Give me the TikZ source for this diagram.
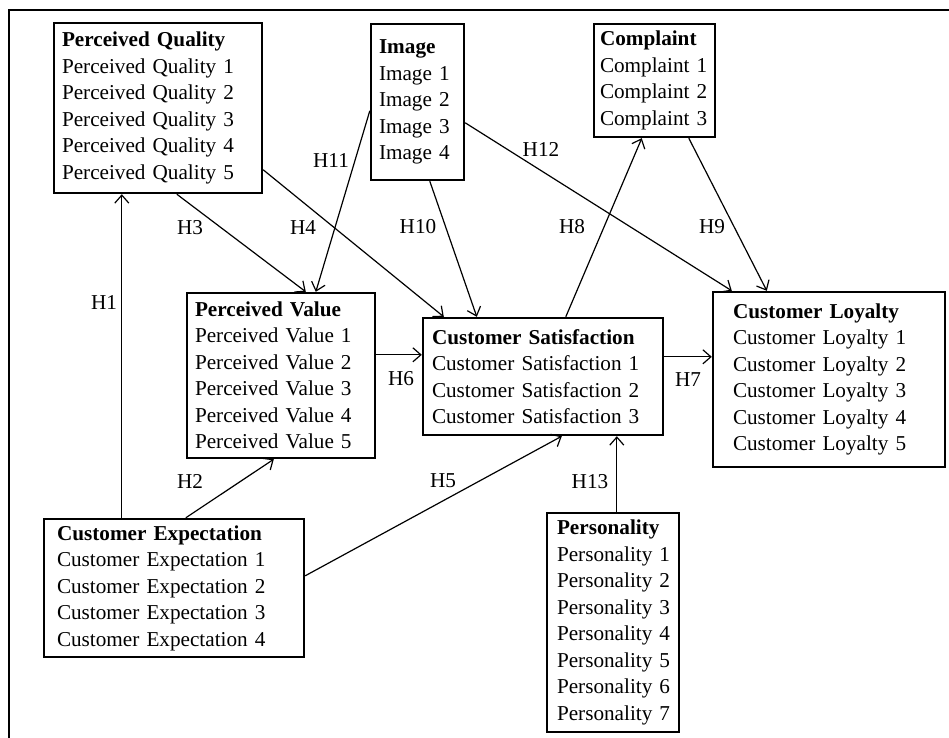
\documentclass[tikz,border=0pt]{standalone}
\usepackage{fontspec}
\setmainfont{Liberation Serif}
\usetikzlibrary{arrows.meta,calc}
\newcommand\diagfs{\fontsize{10.6pt}{13.25pt}\selectfont}
\tikzset{
  box/.style={draw, line width=1.2pt, align=left, inner ysep=0.5pt, font=\diagfs},
  conn/.style={-{Straight Barb[length=4pt,width=7pt]}, line width=0.6pt},
  hlab/.style={font=\diagfs, inner sep=1pt},
}
\begin{document}
\begin{tikzpicture}[x=0.5pt,y=-0.5pt]
\useasboundingbox (0,0) rectangle (949,738);
\draw[line width=1pt] (9,738) -- (9,10) -- (949,10);

\node[box, minimum width=104pt, minimum height=85pt, inner xsep=4pt, text width=96pt] (PQ) at (158,108)
 {\textbf{Perceived~Quality}\\Perceived~Quality~1\\Perceived~Quality~2\\Perceived~Quality~3\\Perceived~Quality~4\\Perceived~Quality~5};
\node[box, minimum width=46.5pt, minimum height=78pt, inner xsep=4pt, text width=38.5pt] (IM) at (417.5,102)
 {\textbf{Image}\\Image~1\\Image~2\\Image~3\\Image~4};
\node[box, minimum width=60.5pt, minimum height=56.5pt, inner xsep=3pt, text width=54.5pt] (CO) at (654.5,80.5)
 {\textbf{Complaint}\\Complaint~1\\Complaint~2\\Complaint~3};
\node[box, minimum width=94pt, minimum height=82.5pt, inner xsep=4pt, text width=86pt] (PV) at (281,375.5)
 {\textbf{Perceived~Value}\\Perceived~Value~1\\Perceived~Value~2\\Perceived~Value~3\\Perceived~Value~4\\Perceived~Value~5};
\node[box, minimum width=130pt, minimum height=69pt, inner xsep=6.5pt, text width=117pt] (CE) at (174,588)
 {\textbf{Customer~Expectation}\\Customer~Expectation~1\\Customer~Expectation~2\\Customer~Expectation~3\\Customer~Expectation~4};
\node[box, minimum width=120pt, minimum height=58.5pt, inner xsep=4.5pt, text width=111pt] (CS) at (543,376.5)
 {\textbf{Customer~Satisfaction}\\Customer~Satisfaction~1\\Customer~Satisfaction~2\\Customer~Satisfaction~3};
\node[box, minimum width=116pt, minimum height=87.5pt, inner xsep=10pt, text width=96pt] (CL) at (829,379.5)
 {\textbf{Customer~Loyalty}\\Customer~Loyalty~1\\Customer~Loyalty~2\\Customer~Loyalty~3\\Customer~Loyalty~4\\Customer~Loyalty~5};
\node[box, minimum width=66pt, minimum height=109.5pt, inner xsep=5pt, text width=56pt] (PE) at (613,622.5)
 {\textbf{Personality}\\Personality~1\\Personality~2\\Personality~3\\Personality~4\\Personality~5\\Personality~6\\Personality~7};

% connectors
\draw[conn] ($(CE.north west)+(79,0)$) -- ($(PQ.south west)+(69,0)$);
\draw[conn] ($(CE.north west)+(143,0)$) -- ($(PV.south west)+(88,0)$);
\draw[conn] ($(PQ.south west)+(124,0)$) -- ($(PV.north west)+(120,0)$);
\draw[conn] ($(PQ.north east)+(0,148)$) -- ($(CS.north west)+(22,0)$);
\draw[conn] ($(IM.north west)+(0,88)$) -- ($(PV.north west)+(130,0)$);
\draw[conn] ($(IM.south west)+(60,0)$) -- ($(CS.north west)+(55,0)$);
\draw[conn] ($(IM.north east)+(0,100)$) -- ($(CL.north west)+(20,0)$);
\draw[conn] ($(CS.north west)+(144,0)$) -- ($(CO.south west)+(49,0)$);
\draw[conn] ($(CO.south west)+(96,0)$) -- ($(CL.north west)+(55,0)$);
\draw[conn] ($(PV.north east)+(0,63)$) -- ($(CS.north west)+(0,38)$);
\draw[conn] ($(CS.north east)+(0,40)$) -- ($(CL.north west)+(0,66)$);
\draw[conn] ($(CE.north east)+(0,58)$) -- ($(CS.south west)+(140,0)$);
\draw[conn] ($(PE.north west)+(71,0)$) -- ($(CS.south west)+(195,0)$);

% labels
\node[hlab] (h1) at (104,303) {H1};
\node[hlab] (h2) at (190,481) {H2};
\node[hlab] (h3) at (190,228) {H3};
\node[hlab] (h4) at (303,228) {H4};
\node[hlab] (h5) at (443,481) {H5};
\node[hlab] (h6) at (401,379) {H6};
\node[hlab] (h7) at (688,380) {H7};
\node[hlab] (h8) at (572,227) {H8};
\node[hlab] (h9) at (712,227) {H9};
\node[hlab] (h10) at (418,227) {H10};
\node[hlab] (h11) at (331,161) {H11};
\node[hlab] (h12) at (541,149) {H12};
\node[hlab] (h13) at (590,482) {H13};
\end{tikzpicture}
\end{document}
